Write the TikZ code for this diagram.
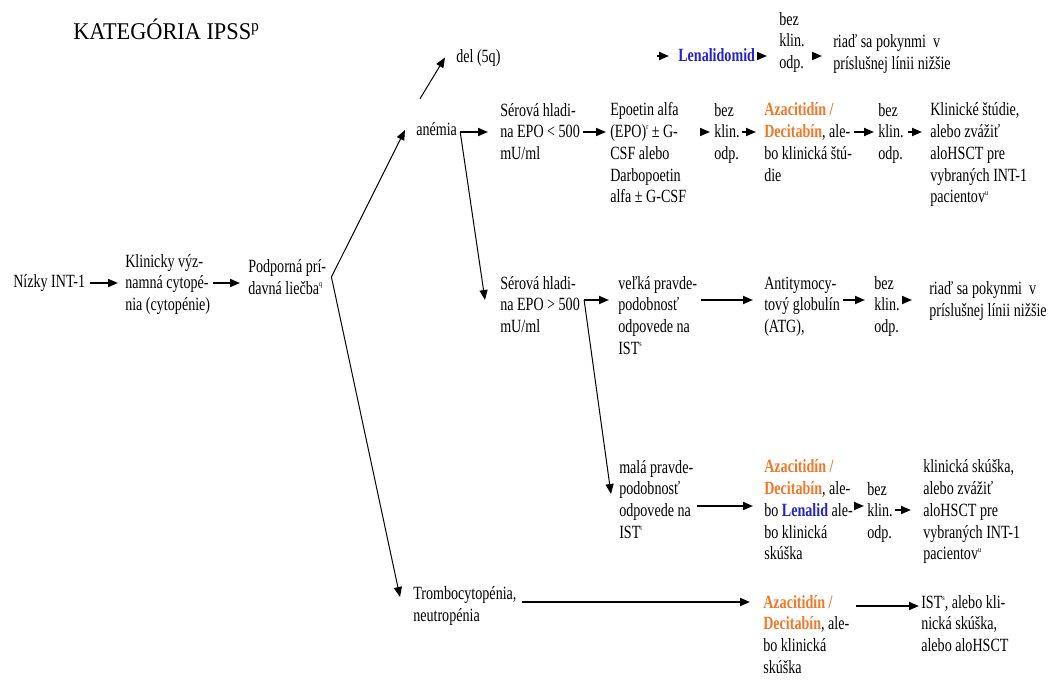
\documentclass[tikz,border=0pt]{standalone}
\usepackage{fontspec}
\setmainfont{Liberation Serif}[FakeStretch=0.755]
\newfontfamily\titlefont{Liberation Serif}[FakeStretch=0.93]
\usetikzlibrary{arrows.meta,calc}
\definecolor{lenblue}{RGB}{35,35,200}
\definecolor{azaorange}{RGB}{240,120,40}
\newcommand\sps[1]{\raisebox{0.9ex}{\fontsize{6pt}{6pt}\selectfont #1}}
\newcommand\azaA{\textcolor{azaorange}{\textbf{Azacitidín /}}}
\newcommand\azaB{\textcolor{azaorange}{\textbf{Decitabín}}}
\newcommand\lenB[1]{\textcolor{lenblue}{\textbf{#1}}}
\tikzset{
  txt/.style={anchor=base west, inner sep=0pt, align=left,
    font=\fontsize{14pt}{16.3pt}\selectfont},
  arr/.style={-{Triangle[length=7.5pt,width=6pt]}, line width=1.3pt},
  thinarr/.style={-{Triangle[length=7.5pt,width=6pt]}, line width=0.75pt},
}
\begin{document}
\begin{tikzpicture}[x=0.75pt,y=-0.75pt]
\useasboundingbox (0,0) rectangle (1051,681);
% levels
\coordinate (lv0) at (0,56);
\coordinate (lv1) at (0,283);
\coordinate (lv2) at (0,132);
\coordinate (lv3) at (0,300);
\coordinate (lv4) at (0,506);
\coordinate (lv4b) at (0,510);
\coordinate (lv4t) at (0,494);
\coordinate (lv5) at (0,602);
\coordinate (lv5b) at (0,606);
\coordinate (lv5t) at (0,597);

% nodes: y is the baseline of the LAST line
\node[anchor=base west, inner sep=0pt] (title) at (73,40)
  {\titlefont\fontsize{18pt}{20pt}\selectfont KATEGÓRIA IPSS\textsuperscript{p}};

\node[txt] (nizky) at (13,288) {Nízky INT-1};
\node[txt] (klin) at (125,310.5) {Klinicky výz-\\namná cytopé-\\nia (cytopénie)};
\node[txt] (podp) at (248,294.7) {Podporná prí-\\davná liečba\sps{q}};
\node[txt] (anemia) at (416,136) {anémia};
\node[txt] (del) at (456,63) {del (5q)};
\node[txt] (len) at (678,62) {\lenB{Lenalidomid}};
\node[txt] (bez0) at (779,68.5) {bez\\klin.\\odp.};
\node[txt] (riad0) at (833,69.7) {riaď sa pokynmi~ v\\príslušnej línii nižšie};

\node[txt] (ser2) at (500,159.5) {Sérová hladi-\\na EPO < 500\\mU/ml};
\node[txt] (epo) at (610,202.9) {Epoetin alfa\\(EPO)\sps{r} ± G-\\CSF alebo\\Darbopoetin\\alfa ± G-CSF};
\node[txt] (bez2a) at (714,159.5) {bez\\klin.\\odp.};
\node[txt] (aza2) at (764,181.2) {\azaA\\\azaB, ale-\\bo klinická štú-\\die};
\node[txt] (bez2b) at (878,159.5) {bez\\klin.\\odp.};
\node[txt] (kst) at (930,202.9) {Klinické štúdie,\\alebo zvážiť\\aloHSCT pre\\vybraných INT-1\\pacientov\sps{u}};

\node[txt] (ser3) at (500,332.5) {Sérová hladi-\\na EPO > 500\\mU/ml};
\node[txt] (velka) at (618,354.2) {veľká pravde-\\podobnosť\\odpovede na\\IST\sps{s}};
\node[txt] (atg) at (764,332.5) {Antitymocy-\\tový globulín\\(ATG),};
\node[txt] (bez3) at (874,332.5) {bez\\klin.\\odp.};
\node[txt] (riad3) at (929,316.7) {riaď sa pokynmi~ v\\príslušnej línii nižšie};

\node[txt] (mala) at (619,538.2) {malá pravde-\\podobnosť\\odpovede na\\IST\sps{t}};
\node[txt] (aza4) at (764,559.9) {\azaA\\\azaB, ale-\\bo \lenB{Lenalid} ale-\\bo klinická\\skúška};
\node[txt] (bez4) at (867,538.5) {bez\\klin.\\odp.};
\node[txt] (kss4) at (923,559.9) {klinická skúška,\\alebo zvážiť\\aloHSCT pre\\vybraných INT-1\\pacientov\sps{u}};

\node[txt] (trombo) at (413,621.7) {Trombocytopénia,\\neutropénia};
\node[txt] (aza5) at (763,673.2) {\azaA\\\azaB, ale-\\bo klinická\\skúška};
\node[txt] (ist5) at (921,651.5) {IST\sps{s}, alebo kli-\\nická skúška,\\alebo aloHSCT};

% connectors
\coordinate (br) at ($(podp.east|-lv1)+(5,-6)$);
\draw[arr] ($(nizky.east|-lv1)+(5,0)$) -- ($(klin.west|-lv1)+(-7,0)$);
\draw[arr] ($(klin.east|-lv1)+(3,0)$) -- ($(podp.west|-lv1)+(-8,0)$);
\draw[thinarr] (br) -- ($(anemia.west|-lv2)+(-11,-2)$);
\draw[thinarr] (br) -- ($(trombo.west|-lv5t)+(-13,0)$);

\coordinate (abr) at ($(anemia.east|-lv2)+(3,0)$);
\draw[arr] (abr) -- ($(ser2.west|-lv2)+(-12,0)$);
\draw[thinarr] (abr) -- ($(ser3.west|-lv3)+(-15,0)$);
\draw[thinarr] ($(anemia.north west)+(4,-24)$) -- ($(del.west)+(-11,-1)$);

\draw[arr] ($(len.west|-lv0)+(-21,0)$) -- ($(len.west|-lv0)+(-9,0)$);
\draw[arr] ($(len.east|-lv0)+(3,0)$) -- ($(bez0.west|-lv0)+(-12,0)$);
\draw[arr] ($(bez0.east|-lv0)+(8,0)$) -- ($(riad0.west|-lv0)+(-11,0)$);

\draw[arr] ($(ser2.east|-lv2)+(3,0)$) -- ($(epo.west|-lv2)+(-4,0)$);
\draw[arr] ($(epo.east|-lv2)+(14,0)$) -- ($(bez2a.west|-lv2)+(-4,0)$);
\draw[arr] ($(bez2a.east|-lv2)+(2,0)$) -- ($(aza2.west|-lv2)+(-8,0)$);
\draw[arr] ($(aza2.east|-lv2)+(2,0)$) -- ($(bez2b.west|-lv2)+(-4,0)$);
\draw[arr] ($(bez2b.east|-lv2)+(4,0)$) -- ($(kst.west|-lv2)+(-8,0)$);

\coordinate (cr) at ($(ser3.east|-lv3)+(4,0)$);
\draw[arr] (cr) -- ($(velka.west|-lv3)+(-9,0)$);
\draw[thinarr] (cr) -- ($(mala.west|-lv4t)+(-8,0)$);
\draw[arr] ($(velka.east|-lv3)+(4,0)$) -- ($(atg.west|-lv3)+(-11,0)$);
\draw[arr] ($(atg.east|-lv3)+(3,0)$) -- ($(bez3.west|-lv3)+(-9,0)$);
\draw[arr] ($(bez3.east|-lv3)+(2,0)$) -- ($(riad3.west|-lv3)+(-17,0)$);

\draw[arr] ($(mala.east|-lv4)+(4,0)$) -- ($(aza4.west|-lv4)+(-11,0)$);
\draw[arr] ($(aza4.east|-lv4)+(2,0)$) -- ($(bez4.west|-lv4)+(-3,0)$);
\draw[arr] ($(bez4.east|-lv4b)+(2,0)$) -- ($(kss4.west|-lv4b)+(-12,0)$);

\draw[arr] ($(trombo.east|-lv5)+(5,0)$) -- ($(aza5.west|-lv5)+(-13,0)$);
\draw[arr] ($(aza5.east|-lv5b)+(6,0)$) -- ($(ist5.west|-lv5b)+(-2,0)$);
\end{tikzpicture}
\end{document}
